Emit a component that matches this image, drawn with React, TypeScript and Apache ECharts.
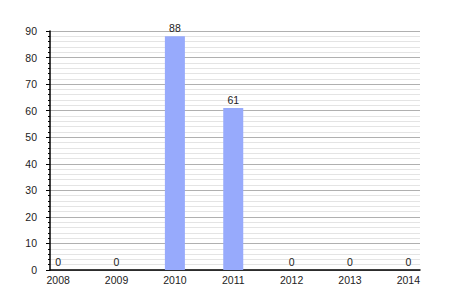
import React, { useEffect, useRef } from "react";
import * as echarts from "echarts";

const years = ["2008", "2009", "2010", "2011", "2012", "2013", "2014"];
const values = [0, 0, 88, 61, 0, 0, 0];
const yTicks = [0, 10, 20, 30, 40, 50, 60, 70, 80, 90];

export default function App() {
  const ref = useRef<HTMLDivElement>(null);
  useEffect(() => {
    document.body.style.margin = "0";
    if (!ref.current) return;
    const chart = echarts.init(ref.current, null, { renderer: "svg" });
    const idx = years.map((_, i) => i);
    chart.setOption({
      animation: false,
      backgroundColor: "#ffffff",
      grid: { left: 50, right: 30, top: 31, bottom: 30, containLabel: false },
      xAxis: {
        type: "value",
        min: -0.14,
        max: 6.2,
        axisLine: { show: true, onZero: false, lineStyle: { color: "#000", width: 1.5 } },
        axisTick: { show: false },
        splitLine: { show: false },
        axisLabel: {
          customValues: idx,
          formatter: (v: number) => years[Math.round(v)] ?? "",
          color: "#222",
          fontFamily: "Liberation Sans, Arial, sans-serif",
          fontSize: 10.5,
          margin: 4,
        },
      },
      yAxis: {
        type: "value",
        min: yTicks[0],
        max: yTicks[yTicks.length - 1],
        interval: 10,
        axisLine: { show: true, onZero: false, lineStyle: { color: "#000", width: 1.5 } },
        axisTick: { show: true, length: 4, lineStyle: { color: "#000" } },
        minorTick: { show: true, splitNumber: 5, length: 2, lineStyle: { color: "#000" } },
        splitLine: { show: true, lineStyle: { color: "#b0b0b0", width: 1 } },
        minorSplitLine: { show: true, lineStyle: { color: "#e4e4e4", width: 1 } },
        axisLabel: {
          color: "#222",
          fontFamily: "Liberation Sans, Arial, sans-serif",
          fontSize: 10.5,
          margin: 13,
        },
      },
      series: [
        {
          type: "bar",
          data: values.map((v, i) => [i, v]),
          barWidth: 20,
          itemStyle: { color: "#97aafc" },
          label: {
            show: true,
            position: "top",
            distance: 3,
            color: "#222",
            fontFamily: "Liberation Sans, Arial, sans-serif",
            fontSize: 10.5,
            formatter: (p: any) => String(p.value[1]),
          },
        },
      ],
    });
    return () => chart.dispose();
  }, []);
  return <div ref={ref} style={{ width: 450, height: 300 }} />;
}
